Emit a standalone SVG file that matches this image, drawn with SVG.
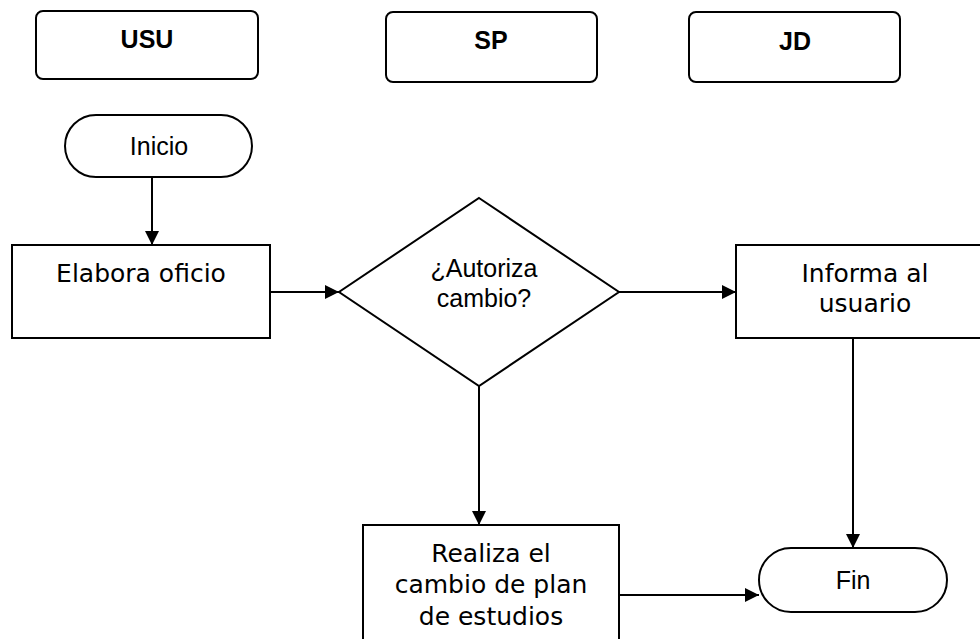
<svg xmlns="http://www.w3.org/2000/svg" width="980" height="639" viewBox="0 0 980 639">
<style>
  .shape { fill: #ffffff; stroke: #000000; stroke-width: 2; }
  .hdr { font-family: "Liberation Sans", Arial, sans-serif; font-weight: bold; font-size: 25px; text-anchor: middle; fill: #000; }
  .ar { font-family: "Liberation Sans", Arial, sans-serif; font-size: 25px; text-anchor: middle; fill: #000; }
  .vd { font-family: "DejaVu Sans", Verdana, sans-serif; font-size: 25px; text-anchor: middle; fill: #000; }
  .conn { stroke: #000; stroke-width: 2; fill: none; marker-end: url(#arrow); }
</style>
<defs>
  <marker id="arrow" markerUnits="userSpaceOnUse" markerWidth="15" markerHeight="14" refX="14" refY="7" orient="auto">
    <path d="M0,0 L14,7 L0,14 z" fill="#000"/>
  </marker>
</defs>
<rect width="980" height="639" fill="#ffffff"/>

<g id="connectors">
  <line class="conn" x1="152" y1="177" x2="152" y2="245"/>
  <line class="conn" x1="270" y1="292" x2="339" y2="292"/>
  <line class="conn" x1="619" y1="292" x2="736" y2="292"/>
  <line class="conn" x1="479" y1="386" x2="479" y2="525"/>
  <line class="conn" x1="853" y1="338" x2="853" y2="548"/>
  <line class="conn" x1="619" y1="595" x2="759" y2="595"/>
</g>

<g id="usu">
  <rect class="shape" x="36" y="11" width="222" height="68" rx="7"/>
  <text class="hdr" x="147" y="48">USU</text>
</g>
<g id="sp">
  <rect class="shape" x="386" y="12" width="211" height="70" rx="7"/>
  <text class="hdr" x="491" y="49">SP</text>
</g>
<g id="jd">
  <rect class="shape" x="689" y="12" width="211" height="70" rx="7"/>
  <text class="hdr" x="795" y="50">JD</text>
</g>

<g id="inicio">
  <rect class="shape" x="65" y="115" width="187" height="62" rx="31"/>
  <text class="ar" x="159" y="155">Inicio</text>
</g>

<g id="elabora">
  <rect class="shape" x="12" y="245" width="258" height="93"/>
  <text class="vd" x="141" y="282">Elabora oficio</text>
</g>

<g id="autoriza">
  <polygon class="shape" points="479,198 619,292 479,386 339,292"/>
  <text class="ar" x="484" y="277">¿Autoriza</text>
  <text class="ar" x="484" y="307">cambio?</text>
</g>

<g id="informa">
  <rect class="shape" x="736" y="245" width="259" height="93"/>
  <text class="vd" x="865" y="282">Informa al</text>
  <text class="vd" x="865" y="312">usuario</text>
</g>

<g id="realiza">
  <rect class="shape" x="363" y="525" width="256" height="130"/>
  <text class="vd" x="491" y="562">Realiza el</text>
  <text class="vd" x="491" y="593">cambio de plan</text>
  <text class="vd" x="491" y="625">de estudios</text>
</g>

<g id="fin">
  <rect class="shape" x="759" y="548" width="188" height="64" rx="32"/>
  <text class="ar" x="853" y="589">Fin</text>
</g>
</svg>
